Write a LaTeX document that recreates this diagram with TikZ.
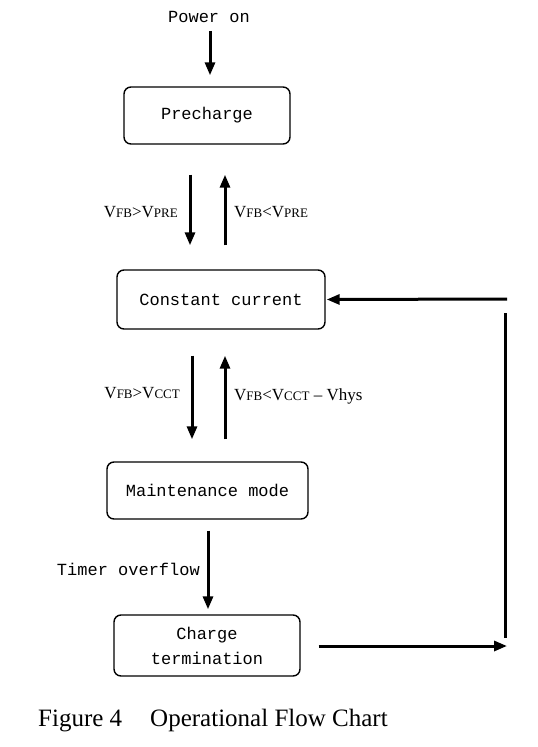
\documentclass[tikz,border=0pt]{standalone}
\usepackage{fontspec}
\setmainfont{Liberation Serif}
\newfontfamily\boxfont{Liberation Mono}
\usetikzlibrary{arrows.meta}
\newcommand{\subcap}[1]{{\fontsize{13}{13}\selectfont #1}}
\begin{document}
\begin{tikzpicture}[x=1pt, y=-1pt,
  box/.style={draw, line width=1.4pt, rounded corners=7pt, align=center,
    font=\boxfont\fontsize{17}{25}\selectfont, inner sep=0pt},
  flow/.style={line width=3pt, -{Triangle[length=13pt,width=10pt]}},
  cond/.style={font=\fontsize{17}{18}\selectfont, inner sep=0pt},
  plain/.style={font=\boxfont\fontsize{17}{18}\selectfont, inner sep=0pt}]
  \useasboundingbox (0,0) rectangle (538,747);
  % boxes
  \node[box, minimum width=166pt, minimum height=57pt] (pre) at (207,115.5) {Precharge};
  \node[box, minimum width=208pt, minimum height=59pt] (cc) at (221,299.5) {Constant current};
  \node[box, minimum width=201pt, minimum height=57pt] (mm) at (207.5,490.5) {Maintenance mode};
  \node[box, minimum width=186pt, minimum height=61pt] (ct) at (207,645.5) {Charge\\termination};
  % power on
  \node[plain] (pwr) at (209,17) {Power on};
  \draw[flow, shorten <=8pt, shorten >=11pt] ([xshift=1pt]pwr.south) -- ([xshift=3pt]pre.north);
  % precharge <-> constant current
  \draw[flow, shorten <=30pt, shorten >=24pt] ([xshift=-17pt]pre.south) -- ([xshift=-17pt]pre.south |- cc.north);
  \draw[flow, shorten <=24pt, shorten >=30pt] ([xshift=18pt]pre.south |- cc.north) -- ([xshift=18pt]pre.south);
  \node[cond, anchor=east] (c1) at (178,212) {V\subcap{FB}>V\subcap{PRE}};
  \node[cond, anchor=west] (c2) at (234,212) {V\subcap{FB}<V\subcap{PRE}};
  % constant current <-> maintenance
  \draw[flow, shorten <=26pt, shorten >=22pt] ([xshift=-29pt]cc.south) -- ([xshift=-29pt]cc.south |- mm.north);
  \draw[flow, shorten <=22pt, shorten >=26pt] ([xshift=4pt]cc.south |- mm.north) -- ([xshift=4pt]cc.south);
  \node[cond, anchor=east] (c3) at (180,393) {V\subcap{FB}>V\subcap{CCT}};
  \node[cond, anchor=west] (c4) at (234,396) {V\subcap{FB}<V\subcap{CCT} -- Vhys};
  % maintenance -> termination
  \draw[flow, shorten <=11pt, shorten >=5pt] ([xshift=0.5pt]mm.south) -- ([xshift=1pt]ct.north);
  \node[plain, anchor=east] (tmr) at (200,569) {Timer overflow};
  % return path
  \coordinate (rb) at (507,646);
  \coordinate (rt) at (507,299);
  \draw[flow, shorten <=18pt] (ct.east |- rb) -- (rb);
  \draw[line width=3pt, shorten <=14pt, shorten >=8pt] ([xshift=-2pt]rt) -- ([xshift=-2pt]rb);
  \draw[flow, shorten >=1pt] (rt) -- (cc.east);
  % caption
  \node[anchor=west, inner sep=0pt, font=\fontsize{25}{26}\selectfont] (cap) at (38,721)
    {Figure 4\hspace{28pt}Operational Flow Chart};
\end{tikzpicture}
\end{document}
